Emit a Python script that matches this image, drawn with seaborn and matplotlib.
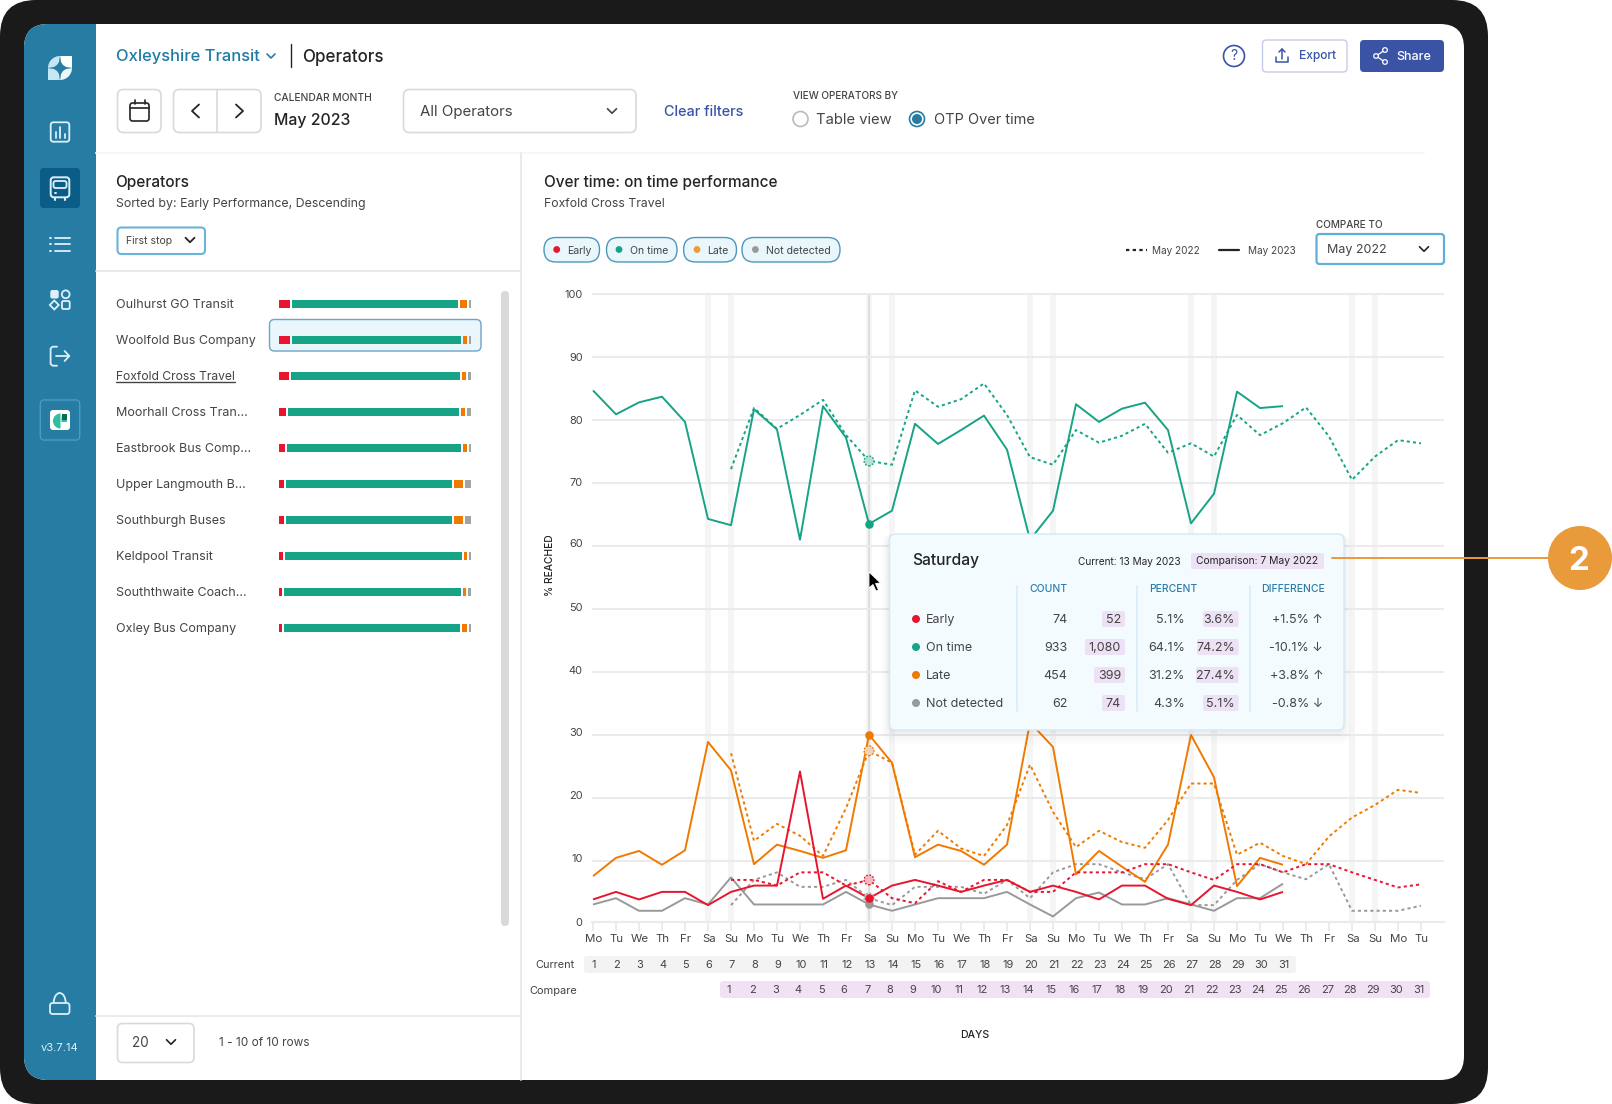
import numpy as np
import pandas as pd
import matplotlib.pyplot as plt
import seaborn as sns
from matplotlib.patches import FancyBboxPatch, Rectangle, Circle, Wedge, Polygon, Arc
from matplotlib.transforms import blended_transform_factory, ScaledTranslation

W, H = 1612, 1104

# ---- chart data ----
weekdays = ['Mo', 'Tu', 'We', 'Th', 'Fr', 'Sa', 'Su'] * 5 + ['Mo', 'Tu']
current_days = list(range(1, 32))
compare_days = list(range(1, 32))

on_time_now = [84.7, 80.9, 82.8, 83.7, 79.7, 64.3, 63.3, 81.7, 78.5, 61.0, 82.2, 77.2, 63.5, 65.6, 79.4, 76.2,
               78.4, 80.7, 75.3, 61.0, 65.6, 82.5, 79.7, 81.8, 82.75, 78.4, 63.6, 68.3, 84.5, 81.9, 82.2]
on_time_old = [72.2, 81.9, 78.6, 80.8, 83.2, 77.6, 73.5, 72.9, 84.7, 82.1, 83.3, 85.8, 80.8, 74.1, 72.9, 78.4,
               76.4, 77.5, 79.4, 74.8, 76.3, 74.2, 80.8, 77.6, 79.5, 82.0, 77.4, 70.5, 74.2, 76.8, 76.3]
late_now = [7.6, 10.5, 11.6, 9.4, 11.7, 28.9, 24.4, 9.5, 12.6, 11.6, 10.5, 11.7, 30.05, 25.6, 10.6, 12.6,
            11.6, 9.4, 12.6, 32.0, 28.1, 7.9, 11.6, 9.1, 6.7, 12.6, 30.0, 23.3, 6.0, 10.5, 9.4]
late_old = [27.1, 13.2, 15.9, 14.0, 10.8, 18.4, 27.5, 25.6, 11.0, 14.8, 12.0, 10.8, 15.7, 25.3, 17.8, 12.2,
            14.8, 13.0, 12.1, 16.5, 22.3, 22.3, 11.0, 12.9, 10.8, 9.5, 13.9, 16.9, 18.9, 21.3, 20.8]
early_now = [3.9, 5.1, 3.9, 5.1, 5.1, 3.0, 5.1, 6.1, 6.1, 24.2, 4.0, 6.1, 4.1, 6.1, 7.0, 6.1,
             5.1, 6.1, 7.0, 5.1, 6.1, 5.1, 3.9, 6.1, 6.1, 4.0, 3.0, 6.1, 5.1, 3.9, 5.1]
early_old = [7.0, 7.0, 6.1, 8.2, 8.2, 6.1, 7.0, 4.1, 3.3, 6.8, 5.1, 7.0, 7.0, 5.1, 5.1, 8.2,
             8.2, 8.2, 9.5, 9.5, 8.2, 7.0, 9.5, 9.5, 8.2, 9.5, 9.5, 8.2, 7.0, 5.8, 6.3]
nd_now = [3.1, 4.1, 2.1, 2.1, 4.1, 3.1, 7.4, 3.1, 3.1, 3.1, 3.1, 5.1, 3.1, 2.1, 3.1, 4.1,
          4.1, 4.1, 5.1, 3.1, 1.2, 4.1, 5.0, 3.1, 3.1, 4.1, 3.1, 2.1, 4.1, 4.1, 6.4]
nd_old = [3.0, 7.0, 8.2, 5.9, 5.9, 7.0, 4.1, 3.0, 5.9, 5.9, 5.9, 4.8, 7.0, 4.1, 8.2, 9.5,
          9.5, 8.2, 7.1, 9.5, 3.0, 3.0, 7.0, 9.5, 8.2, 7.1, 9.5, 2.1, 2.1, 2.1, 2.9]

operators = ['Oulhurst GO Transit', 'Woolfold Bus Company', 'Foxfold Cross Travel', 'Moorhall Cross Tran…',
             'Eastbrook Bus Comp…', 'Upper Langmouth B…', 'Southburgh Buses', 'Keldpool Transit',
             'Souththwaite Coach…', 'Oxley Bus Company']
op_early = [6.2, 6.2, 5.7, 4.2, 3.6, 3.1, 3.1, 2.6, 2.1, 2.1]
op_on_time = [87.5, 89.1, 89.1, 90.1, 91.7, 87.5, 87.5, 93.2, 93.2, 92.7]
op_late = [4.7, 3.1, 3.1, 3.1, 3.1, 5.7, 5.7, 2.6, 2.6, 3.6]
op_nd = [1.6, 1.6, 2.1, 2.6, 1.6, 3.7, 3.7, 1.6, 2.1, 1.6]

tip_labels = ['Early', 'On time', 'Late', 'Not detected']
tip_count = ['74', '933', '454', '62']
tip_count_old = ['52', '1,080', '399', '74']
tip_pct = ['5.1%', '64.1%', '31.2%', '4.3%']
tip_pct_old = ['3.6%', '74.2%', '27.4%', '5.1%']
tip_diff = ['+1.5% ↑', '-10.1% ↓', '+3.8% ↑', '-0.8% ↓']

# ---- colours ----
RED, GREEN, ORANGE, GRAY = '#e8152f', '#17a386', '#f07a00', '#999999'
TEAL, TEAL_DK, INDIGO = '#277ca3', '#0b5c86', '#3a53a4'
INK, INK2, LINE = '#242424', '#444444', '#d9d9d9'
GRID, BAND = '#ebebeb', '#f5f5f5'
LILAC, PINK = '#ece1f5', '#f1e1f5'
ICON = '#dcf0f9'

sns.set_theme(style='white')
plt.rcParams['font.family'] = ['Inter', 'DejaVu Sans']

fig = plt.figure(figsize=(W / 100, H / 100), dpi=100, facecolor='white')


def pixel_axes(z):
    a = fig.add_axes([0, 0, 1, 1], zorder=z)
    a.set_xlim(0, W)
    a.set_ylim(H, 0)
    a.axis('off')
    a.patch.set_alpha(0)
    return a


bg = pixel_axes(0)
top = pixel_axes(5)


def fs(px):
    return px * 0.72


def box(a, x0, y0, x1, y1, r=6, fc='white', ec='none', lw=1.0, z=2, alpha=None):
    p = FancyBboxPatch((x0, y0), x1 - x0, y1 - y0, boxstyle=f'round,pad=0,rounding_size={r}',
                       fc=fc, ec=ec, lw=lw, zorder=z, alpha=alpha)
    a.add_patch(p)
    return p


def txt(a, x, y, s, size=13, color=INK, ha='left', weight='normal', z=6, **kw):
    # +2: Inter sits higher than the reference font
    return a.text(x, y + 2, s, fontsize=fs(size), color=color, ha=ha, va='center', fontweight=weight, zorder=z, **kw)


def stroke(a, xs, ys, color=INK, lw=1.2, z=4):
    a.plot(xs, ys, color=color, lw=lw, zorder=z, solid_capstyle='round', solid_joinstyle='round')


def chevron(a, x, y, s=4.5, color=INK, lw=1.2):
    stroke(a, [x - s, x, x + s], [y - s / 2, y + s / 2, y - s / 2], color, lw)


# ---- device frame ----
box(bg, 0, 0, 1488, 1104, r=36, fc='#1a1a1a', z=0)
screen = box(bg, 24, 24, 1464, 1080, r=24, fc='white', z=1)
side = Rectangle((24, 24), 72, 1056, fc=TEAL, ec='none', zorder=2)
bg.add_patch(side)
side.set_clip_path(screen)

# logo
bg.add_patch(Wedge((60, 68), 12, 180, 270, fc='#c5e6f5', ec='none', zorder=3))
bg.add_patch(Rectangle((60, 56), 12, 12, fc='white', ec='none', zorder=3))
bg.add_patch(Rectangle((48, 68), 12, 12, fc='#c5e6f5', ec='none', zorder=3))
bg.add_patch(Wedge((60, 68), 12, 0, 90, fc='#eef8fc', ec='none', zorder=3))
star = [(0, -13), (1, -6), (3, -3), (6, -1), (13, 0), (6, 1), (3, 3), (1, 6),
        (0, 13), (-1, 6), (-3, 3), (-6, 1), (-13, 0), (-6, -1), (-3, -3), (-1, -6)]
bg.add_patch(Polygon([(60 + dx, 68 + dy) for dx, dy in star], fc=TEAL, ec='none', zorder=4))

# nav icons
box(bg, 50.7, 122.3, 69.3, 141.7, r=2.5, fc='none', ec=ICON, lw=1.3, z=4)
stroke(bg, [55.5, 55.5], [132, 137.5], ICON, 1.3)
stroke(bg, [60, 60], [127, 137.5], ICON, 1.3)
stroke(bg, [64.5, 64.5], [134, 137.5], ICON, 1.3)
box(bg, 40, 168, 80, 208, r=4, fc=TEAL_DK, z=3)
box(bg, 50.7, 177.3, 69.3, 197.3, r=3, fc='none', ec=ICON, lw=1.4, z=4)
box(bg, 53.5, 181, 66.5, 188, r=2, fc='none', ec=ICON, lw=1.3, z=4)
stroke(bg, [55, 55], [197.5, 199.5], ICON, 1.5)
stroke(bg, [65, 65], [197.5, 199.5], ICON, 1.5)
stroke(bg, [55, 55.5], [192.5, 192.5], ICON, 1.4)
stroke(bg, [64.5, 65], [192.5, 192.5], ICON, 1.4)
for yy in [237.5, 244, 250.5]:
    stroke(bg, [50, 50.5], [yy, yy], ICON, 1.4)
    stroke(bg, [55, 70], [yy, yy], ICON, 1.3)
box(bg, 50.3, 290, 58.7, 298.5, r=2, fc=ICON, z=4)
bg.add_patch(Circle((65.7, 294.3), 3.9, fc='none', ec=ICON, lw=1.3, zorder=4))
bg.add_patch(Polygon([(54.3, 300.5), (58.8, 305), (54.3, 309.5), (49.8, 305)], fc='none', ec=ICON, lw=1.3, zorder=4))
box(bg, 62, 301, 69.7, 309, r=1.5, fc='none', ec=ICON, lw=1.3, z=4)
stroke(bg, [57, 52.5, 50.6, 50.6, 52.5, 57], [346.7, 346.7, 348.5, 364, 365.7, 365.7], ICON, 1.3)
stroke(bg, [56, 69.3], [356, 356], ICON, 1.3)
stroke(bg, [64.6, 69.3, 64.6], [351, 356, 361], ICON, 1.3)
box(bg, 40.3, 400, 79.7, 440, r=4, fc='none', ec='#4c9cc2', lw=1.0, z=3)
box(bg, 50, 410, 70, 430, r=3, fc='white', z=4)
bg.add_patch(Wedge((60.5, 421), 7.5, 90, 270, fc='#2fbf9d', ec='none', zorder=5))
bg.add_patch(Wedge((61.5, 422), 5.5, 270, 360, fc='#2fbf9d', ec='none', zorder=5))
bg.add_patch(Rectangle((61.5, 414), 5, 5.5, fc='#0d6b52', ec='none', zorder=5))
box(bg, 50, 1003, 69.5, 1014, r=2.5, fc='none', ec=ICON, lw=1.3, z=4)
bg.add_patch(Arc((59.7, 1003), 12, 20, theta1=180, theta2=360, ec=ICON, lw=1.3, zorder=4))
txt(bg, 59.5, 1046, 'v3.7.14', 11.2, ICON, ha='center')

# ---- header ----
txt(bg, 116, 55, 'Oxleyshire Transit', 16.5, '#1f7aa5', weight='medium')
chevron(bg, 271, 56, 4, TEAL)
stroke(bg, [291, 291], [44, 67], INK, 1.0)
txt(bg, 302.5, 55, 'Operators', 17, INK, weight='medium')
box(bg, 117.5, 89.5, 161, 132.5, r=6, ec=LINE, lw=1.2)
box(bg, 130, 103, 149, 121, r=2.5, fc='none', ec=INK, lw=1.2, z=4)
stroke(bg, [130, 149], [108, 108], INK, 1.2)
stroke(bg, [134.5, 134.5], [100, 104], INK, 1.2)
stroke(bg, [144.5, 144.5], [100, 104], INK, 1.2)
box(bg, 173.5, 89.5, 261, 132.5, r=6, ec=LINE, lw=1.2)
stroke(bg, [217, 217], [90, 132], LINE, 1.2)
stroke(bg, [199, 192, 199], [104.5, 111, 117.5], INK, 1.3)
stroke(bg, [236, 243, 236], [104.5, 111, 117.5], INK, 1.3)
txt(bg, 274, 96, 'CALENDAR MONTH', 10.2, INK2, weight='medium')
txt(bg, 274, 119, 'May 2023', 15.8, INK, weight='medium')
box(bg, 403.5, 89.5, 636, 132.5, r=6, ec=LINE, lw=1.2)
txt(bg, 420, 110, 'All Operators', 15, INK2)
chevron(bg, 612, 111, 4.5, INK2)
txt(bg, 663.5, 110, 'Clear filters', 14.4, INDIGO, weight='medium')
txt(bg, 793, 94, 'VIEW OPERATORS BY', 10, INK2, weight='medium')
bg.add_patch(Circle((800.5, 119), 7.5, fc='white', ec='#bbbbbb', lw=1.2, zorder=3))
txt(bg, 816.5, 118, 'Table view', 14.7, INK2)
bg.add_patch(Circle((917, 119), 7.5, fc='white', ec=TEAL, lw=1.2, zorder=3))
bg.add_patch(Circle((917, 119), 5, fc=TEAL, ec='none', zorder=4))
txt(bg, 933.5, 118, 'OTP Over time', 14.5, INK2)
bg.add_patch(Circle((1234, 56), 10.5, fc='white', ec=INDIGO, lw=1.2, zorder=3))
txt(bg, 1234, 54, '?', 14, INDIGO, ha='center')
box(bg, 1262.5, 40, 1347, 72, r=4, ec='#c5cde8', lw=1.0)
stroke(bg, [1276, 1276, 1288, 1288], [57, 62, 62, 57], INDIGO, 1.1)
stroke(bg, [1279, 1282, 1285], [52, 49, 52], INDIGO, 1.1)
stroke(bg, [1282, 1282], [49, 59], INDIGO, 1.1)
txt(bg, 1298.5, 54.5, 'Export', 12, INDIGO, weight='medium')
box(bg, 1360, 40, 1444, 72, r=4, fc=INDIGO)
stroke(bg, [1385, 1376, 1385], [50, 56, 62], 'white', 0.9)
for cx, cy in [(1385, 50), (1376, 56), (1385, 62)]:
    bg.add_patch(Circle((cx, cy), 2.3, fc=INDIGO, ec='white', lw=0.9, zorder=5))
txt(bg, 1396, 54.5, 'Share', 12.5, 'white', weight='medium')

# panel dividers
stroke(bg, [96, 1424], [152.5, 152.5], '#f6f6f6', 1.5, 2)
stroke(bg, [520.5, 520.5], [153, 1080], '#e8e8e8', 1.3, 2)
stroke(bg, [96, 520], [271, 271], '#e8e8e8', 1.3, 2)
stroke(bg, [96, 520], [1015.5, 1015.5], '#e8e8e8', 1.3, 2)

# ---- left panel ----
txt(bg, 115.5, 181, 'Operators', 15.4, INK, weight='medium')
txt(bg, 116, 202, 'Sorted by: Early Performance, Descending', 12.35, INK2)
box(bg, 117.5, 227.5, 205, 254, r=4, ec='#6ab4dc', lw=1.5)
txt(bg, 126, 239.5, 'First stop', 10.5, INK2)
chevron(bg, 190, 240, 4.5, INK, 1.3)

row_y = [304 + 36 * i for i in range(len(operators))]
box(bg, 269.5, 319.5, 481, 351, r=5, fc='#e9f6fc', ec='#6ca5c6', lw=1.0, z=2)
for name, yy in zip(operators, row_y):
    txt(bg, 116, yy - 1, name, 12.1 if name.startswith('Foxfold') else 12.5, INK2)
stroke(bg, [116, 235], [382, 382], INK2, 1.0)
box(bg, 501, 291, 509, 926, r=4, fc='#d9d9d9')

ax_ops = fig.add_axes([279 / W, 1 - 646 / H, 192 / W, 360 / H], zorder=1)
ax_ops.patch.set_alpha(0)
ax_ops.axis('off')
ax_ops.set_xlim(0, 100)
ax_ops.set_ylim(len(operators) - 0.5, -0.5)
gap = 0.9
segments = [op_early, op_on_time, op_late, op_nd]
seg_cols = [RED, GREEN, ORANGE, '#a3a3a3']
left = np.zeros(len(operators))
for k, (seg, col) in enumerate(zip(segments, seg_cols)):
    seg = np.array(seg)
    start = left + (gap / 2 if k > 0 else 0)
    end = left + seg - (gap / 2 if k < 3 else 0)
    ax_ops.barh(range(len(operators)), end - start, left=start, height=8.4 / 36, color=col, linewidth=0)
    left += seg

box(bg, 117.5, 1023.5, 194, 1062.5, r=5, ec=LINE, lw=1.2)
txt(bg, 132, 1041, '20', 13.5, INK2)
chevron(bg, 171, 1042, 4.5, INK, 1.2)
txt(bg, 219, 1041.5, '1 - 10 of 10 rows', 11.8, INK2)

# ---- chart header ----
txt(bg, 544, 180.5, 'Over time: on time performance', 15.3, INK, weight='medium')
txt(bg, 544, 202, 'Foxfold Cross Travel', 12.2, INK2)
chips = [('Early', 544, 599.5, 556.7, 567.4, RED), ('On time', 606.5, 677, 619, 629.6, GREEN),
         ('Late', 683.6, 736.5, 697, 706.7, '#f09a30'), ('Not detected', 742, 840, 755.4, 766, GRAY)]
for label, x0, x1, dot, tx, col in chips:
    box(bg, x0, 237.5, x1, 262, r=12, fc='#e9f6fc', ec='#4f97ba', lw=1.0)
    bg.add_patch(Circle((dot, 249.5), 3.4, fc=col, ec='none', zorder=4))
    txt(bg, tx, 248.5, label, 10.5, INK2)
bg.plot([1126, 1147], [249.5, 249.5], color=INK, lw=1.6, dashes=(1.5, 1.5), zorder=4)
txt(bg, 1151.5, 248.5, 'May 2022', 10, INK2)
stroke(bg, [1219, 1239], [249.5, 249.5], INK, 1.6)
txt(bg, 1248, 248.5, 'May 2023', 10, INK2)
txt(bg, 1316, 222.5, 'COMPARE TO', 10, INK2, weight='medium')
box(bg, 1316.5, 234, 1444, 264, r=3, ec='#5fb0d8', lw=1.6)
txt(bg, 1327, 248, 'May 2022', 12.5, INK2)
chevron(bg, 1424, 249, 4.5, INK, 1.2)

# ---- main chart ----
ax = fig.add_axes([592 / W, 1 - 922 / H, 852 / W, (922 - 287.7) / H], zorder=1)
ax.patch.set_alpha(0)
ax.set_xlim(-0.043, 37)
ax.set_ylim(0.32, 101)

rows = []
pairs = [('Not detected', nd_now, nd_old), ('Late', late_now, late_old),
         ('On time', on_time_now, on_time_old), ('Early', early_now, early_old)]
for status, now, old in pairs:
    for i, v in enumerate(now):
        rows.append((status, 'May 2023', i, v))
    for i, v in enumerate(old):
        rows.append((status, 'May 2022', i + 6, v))
df = pd.DataFrame(rows, columns=['status', 'period', 'pos', 'pct'])

for i in [5, 6, 12, 13, 19, 20, 26, 27, 33, 34]:
    ax.axvspan(i - 0.14, i + 0.14, ymax=99.7 / 100.68, color=BAND, lw=0, zorder=0)
ax.axvspan(11.96, 12.04, ymax=99.7 / 100.68, color='#dedede', lw=0, zorder=0.5)

ax.set_yticks([0.32] + list(range(10, 101, 10)))
ax.set_yticklabels(['0'] + [str(v) for v in range(10, 101, 10)])
ax.set_xticks(range(len(weekdays)))
ax.set_xticklabels(weekdays)
ax.grid(axis='y', color=GRID, lw=1.5, zorder=1)
ax.grid(axis='x', visible=False)
ax.set_axisbelow(True)
ax.tick_params(axis='y', length=0, pad=6.8, labelsize=fs(11), labelcolor=INK2)
ax.tick_params(axis='x', length=6.5, width=1.3, color=GRID, pad=2.2, labelsize=fs(11.5), labelcolor=INK2,
               bottom=True)
for s in ['top', 'left', 'right']:
    ax.spines[s].set_visible(False)
ax.spines['bottom'].set_color(GRID)
ax.spines['bottom'].set_linewidth(1.5)

palette = {'Early': RED, 'On time': GREEN, 'Late': ORANGE, 'Not detected': GRAY}
sns.lineplot(data=df, x='pos', y='pct', hue='status', style='period', palette=palette,
             hue_order=['Not detected', 'Late', 'On time', 'Early'],
             dashes={'May 2023': (1, 0), 'May 2022': (1.6, 1.6)}, estimator=None, sort=False,
             linewidth=1.4, legend=False, ax=ax, zorder=3)
ax.set_xlabel('')
ax.set_ylabel('')

# reference labels do not sit exactly on their ticks
nudge = ScaledTranslation(0.8 / 100, 0, fig.dpi_scale_trans)
for lab in ax.get_xticklabels():
    lab.set_transform(lab.get_transform() + nudge)
y_label_lift = [0.5, 3.3, 3.3, 2.7, 2.2, 2.5, 2.7, 1.3, 0.5, 0, 0]
for lab, lift in zip(ax.get_yticklabels(), y_label_lift):
    lab.set_transform(lab.get_transform() + ScaledTranslation(0, lift / 100, fig.dpi_scale_trans))

# hover markers on 13 May / 7 May
hover = 12
for status, now, old in pairs:
    col = palette[status]
    ax.scatter([hover], [old[hover - 6]], s=50, facecolor=sns.light_palette(col, 5)[1], edgecolor=col,
               linewidth=1.0, linestyle=(0, (1.2, 1.2)), zorder=4)
    ax.scatter([hover], [now[hover]], s=38, color=col, linewidth=0, zorder=5)

# day number strips, aligned with the chart's days
day_x = blended_transform_factory(ax.transData, bg.transData)
box(bg, 584, 956, 1296, 973, r=3, fc='#f3f3f3')
box(bg, 720, 981, 1430, 998, r=3, fc=PINK)
for i, d in enumerate(current_days):
    bg.text(i + 0.04, 965, str(d), transform=day_x, fontsize=fs(11), color=INK2, ha='center', va='center', zorder=6)
for i, d in enumerate(compare_days):
    bg.text(i + 6 - 0.08, 990, str(d), transform=day_x, fontsize=fs(11), color=INK2, ha='center', va='center',
            zorder=6)
txt(bg, 575, 962.5, 'Current', 11, INK2, ha='right')
txt(bg, 577, 988.5, 'Compare', 11, INK2, ha='right')
txt(bg, 975, 1033.5, 'DAYS', 10.5, INK, ha='center', weight='medium')
txt(bg, 550, 563, '% REACHED', 10.2, INK, ha='center', weight='medium', rotation=90)

# ---- tooltip ----
for off, alpha in [(14, 0.012), (10, 0.016), (6, 0.02), (3, 0.025)]:
    box(top, 889 - off / 2, 534, 1344 + off / 2, 730 + off, r=10, fc='#000000', z=1, alpha=alpha)
box(top, 889.5, 534, 1344, 730, r=6, fc='#f3fbff', ec='#cfeaf8', lw=1.0, z=2)
txt(top, 912.5, 559, 'Saturday', 15.6, INK, weight='medium')
txt(top, 1077.5, 560, 'Current: 13 May 2023', 10.05, INK)
box(top, 1191, 553, 1324, 569, r=2, fc=LILAC, z=3)
txt(top, 1257.5, 559.5, 'Comparison: 7 May 2022', 10.3, INK, ha='center')
for xx in [1017, 1137, 1250]:
    stroke(top, [xx, xx], [586, 711], '#d8edf8', 1.2, 3)
for xx, head in [(1029, 'COUNT'), (1149, 'PERCENT'), (1261, 'DIFFERENCE')]:
    txt(top, xx, 587.5, head, 10.4, '#2c7ea8', weight='medium')

tip_y = [619, 647, 675, 703]
tip_cols = [RED, GREEN, ORANGE, GRAY]
count_left = [1102, 1085, 1094, 1102]
pct_left = [1203, 1197, 1196, 1203]
for i, yy in enumerate(tip_y):
    top.add_patch(Circle((916, yy), 4, fc=tip_cols[i], ec='none', zorder=4))
    txt(top, 926, yy - 1, tip_labels[i], 12.5, INK2)
    txt(top, 1067.5, yy - 1, tip_count[i], 12.5, INK2, ha='right')
    box(top, count_left[i], yy - 8, 1125, yy + 8, r=2, fc=LILAC, z=3)
    txt(top, 1121, yy - 1, tip_count_old[i], 12.5, INK2, ha='right')
    txt(top, 1185, yy - 1, tip_pct[i], 12.5, INK2, ha='right')
    box(top, pct_left[i], yy - 8, 1238.5, yy + 8, r=2, fc=LILAC, z=3)
    txt(top, 1235, yy - 1, tip_pct_old[i], 12.5, INK2, ha='right')
    txt(top, 1323, yy - 1, tip_diff[i], 12.5, INK2, ha='right')

# callout
stroke(top, [1332, 1550], [558, 558], '#e99a3a', 1.4, 3)
top.add_patch(Circle((1580, 558), 32, fc='#e99a3a', ec='none', zorder=4))
txt(top, 1579, 559, '2', 33, 'white', ha='center', weight='bold')

# mouse cursor
top.add_patch(Polygon([(869, 572), (869, 588), (873, 584.5), (876, 591), (878.5, 590), (875.5, 583.5), (880.5, 583)],
                      fc='black', ec='white', lw=0.6, zorder=7))

fig.savefig('out.png', dpi=100)
